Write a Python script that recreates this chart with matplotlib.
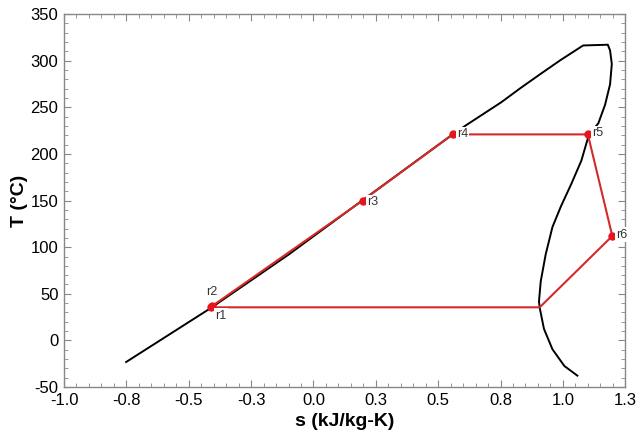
import matplotlib
matplotlib.use("Agg")
import matplotlib.pyplot as plt
from matplotlib.ticker import MultipleLocator

plt.rcParams["font.family"] = ["Liberation Sans", "DejaVu Sans"]
plt.rcParams["axes.unicode_minus"] = False

# saturation dome, liquid side (s in kJ/kg-K, T in C)
liq_s = [-0.751, -0.41, -0.10, 0.19, 0.558, 0.615, 0.753, 0.829, 0.911, 0.992, 1.081]
liq_T = [-23.2, 35.0, 92.0, 149.0, 221.0, 231.4, 255.5, 270.5, 286.0, 301.0, 316.4]

# saturation dome, vapor side
vap_s = [1.180, 1.189, 1.196, 1.189, 1.169, 1.142, 1.104, 1.074, 1.033, 0.992,
         0.958, 0.931, 0.911, 0.904, 0.908, 0.924, 0.958, 1.006, 1.058]
vap_T = [317.2, 311.1, 296.5, 274.7, 252.8, 232.9, 220.5, 192.9, 167.5, 143.8,
         121.6, 92.4, 63.2, 41.5, 33.6, 12.4, -9.5, -27.5, -37.8]

# cycle state points
state_names = ["r1", "r2", "r3", "r4", "r5", "r6"]
state_s = [-0.410, -0.408, 0.197, 0.558, 1.100, 1.198]
state_T = [35.5, 36.5, 150.0, 221.0, 221.0, 112.0]

# saturated vapor point at condenser temperature (no marker)
cond_s = 0.907
cond_T = 35.5

x_ticks = [-1.0, -0.75, -0.5, -0.25, 0.0, 0.25, 0.5, 0.75, 1.0, 1.25]
x_labels = ["-1.0", "-0.8", "-0.5", "-0.3", "0.0", "0.3", "0.5", "0.8", "1.0", "1.3"]

fig = plt.figure(figsize=(6.4, 4.42), dpi=100)
ax = fig.add_axes([0.1, 0.1244, 0.877, 0.8436])

ax.plot(liq_s + vap_s, liq_T + vap_T, color="black", lw=1.4, zorder=2)

cyc_s = state_s + [cond_s, state_s[0]]
cyc_T = state_T + [cond_T, state_T[0]]
ax.plot(cyc_s, cyc_T, color="#d42a2a", lw=1.5, zorder=3)
ax.plot(state_s, state_T, "o", color="#e8141c", ms=5, zorder=4)

offsets = {"r1": (3, -6), "r2": (-4, 10), "r3": (3, -1), "r4": (3, 0),
           "r5": (3, 1), "r6": (3, 1)}
for name, s, t in zip(state_names, state_s, state_T):
    ax.annotate(name, (s, t), xytext=offsets[name], textcoords="offset points",
                fontsize=9, color="#333333", ha="left", va="center",
                bbox=dict(boxstyle="square,pad=0.1", fc="white", ec="none"),
                zorder=5)

ax.set_xlim(-1.0, 1.25)
ax.set_ylim(-50, 350)
ax.set_xticks(x_ticks)
ax.set_xticklabels(x_labels)
ax.xaxis.set_minor_locator(MultipleLocator(0.05))
ax.yaxis.set_major_locator(MultipleLocator(50))
ax.yaxis.set_minor_locator(MultipleLocator(10))

ax.tick_params(which="both", direction="in", top=True, right=True,
               color="#888888", labelsize=12, pad=4)
ax.tick_params(which="major", length=5)
ax.tick_params(which="minor", length=3)
for sp in ax.spines.values():
    sp.set_color("#888888")
    sp.set_linewidth(1.0)

ax.set_xlabel("s (kJ/kg-K)", fontsize=14, fontweight="bold", labelpad=4)
ax.set_ylabel("T (°C)", fontsize=14, fontweight="bold", labelpad=2)

fig.savefig("out.png", dpi=100)
